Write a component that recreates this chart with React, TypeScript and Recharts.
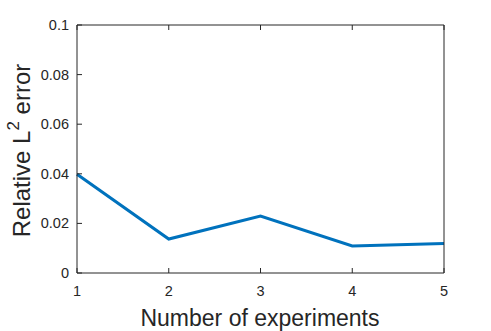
import React from 'react';
import { LineChart, Line, XAxis, YAxis } from 'recharts';

const experiments = [1, 2, 3, 4, 5];
const relErrors = [0.0398, 0.0137, 0.0230, 0.0109, 0.0119];
const xTicks = [1, 2, 3, 4, 5];
const yTicks = [0, 0.02, 0.04, 0.06, 0.08, 0.1];
const yTickLabels = ['0', '0.02', '0.04', '0.06', '0.08', '0.1'];

const data = experiments.map((x, i) => ({ x, err: relErrors[i] }));

const TXT = '#262626';
const FONT = '"Liberation Sans", Arial, Helvetica, sans-serif';
const TICK_LEN = 5;
const X_MARGIN = 12;
const Y_MARGIN = 8;

const yLabelFor = (v: number) =>
  yTickLabels[yTicks.findIndex((t) => Math.abs(t - v) < 1e-9)] ?? String(v);

const renderBottomTick = (props: any) => {
  const { x, y, payload } = props;
  const axisY = y - X_MARGIN;
  return (
    <g key={`b-${payload.value}`}>
      <line x1={x} x2={x} y1={axisY} y2={axisY - TICK_LEN} stroke={TXT} strokeWidth={1} />
      <text x={x} y={axisY + 23} textAnchor="middle" style={{ fontSize: 14.5, fontFamily: FONT }} fill={TXT}>
        {String(payload.value)}
      </text>
    </g>
  );
};

const renderLeftTick = (props: any) => {
  const { x, y, payload } = props;
  const axisX = x + Y_MARGIN;
  return (
    <g key={`l-${payload.value}`}>
      <line x1={axisX} x2={axisX + TICK_LEN} y1={y} y2={y} stroke={TXT} strokeWidth={1} />
      <text x={axisX - 8} y={y + 5} textAnchor="end" style={{ fontSize: 14.5, fontFamily: FONT }} fill={TXT}>
        {yLabelFor(payload.value)}
      </text>
    </g>
  );
};

const renderTopTick = (props: any) => {
  const { x, y, payload } = props;
  const axisY = y + X_MARGIN;
  return <line key={`t-${payload.value}`} x1={x} x2={x} y1={axisY} y2={axisY + TICK_LEN} stroke={TXT} strokeWidth={1} />;
};

const renderRightTick = (props: any) => {
  const { x, y, payload } = props;
  const axisX = x - Y_MARGIN;
  return <line key={`r-${payload.value}`} x1={axisX} x2={axisX - TICK_LEN} y1={y} y2={y} stroke={TXT} strokeWidth={1} />;
};

const YLabel = () => (
  <text
    x={30}
    y={150.5}
    transform="rotate(-90, 30, 150.5)"
    textAnchor="middle"
    style={{ fontSize: 24, fontFamily: FONT }}
    fill={TXT}
  >
    <tspan>Relative L</tspan>
    <tspan style={{ fontSize: 17 }} dy={-11}>2</tspan>
    <tspan dy={11}> error</tspan>
  </text>
);

const XLabel = () => (
  <text x={260} y={326} textAnchor="middle" style={{ fontSize: 23, fontFamily: FONT }} fill={TXT}>
    Number of experiments
  </text>
);

export default function App() {
  return (
    <div style={{ position: 'absolute', left: 0, top: 0, width: 491, height: 331, background: '#fff' }}>
      <LineChart
        width={491}
        height={331}
        data={data}
        margin={{ top: 15, right: 37, bottom: 28, left: 17 }}
      >
        <XAxis
          dataKey="x"
          type="number"
          domain={[1, 5]}
          ticks={xTicks}
          height={30}
          tickSize={0}
          tickMargin={X_MARGIN}
          axisLine={{ stroke: TXT, strokeWidth: 1 }}
          tickLine={false}
          tick={renderBottomTick}
          label={<XLabel />}
        />
        <XAxis
          xAxisId="top"
          orientation="top"
          dataKey="x"
          type="number"
          domain={[1, 5]}
          ticks={xTicks}
          height={10}
          tickSize={0}
          tickMargin={X_MARGIN}
          axisLine={{ stroke: TXT, strokeWidth: 1 }}
          tickLine={false}
          tick={renderTopTick}
        />
        <YAxis
          type="number"
          domain={[0, 0.1]}
          ticks={yTicks}
          width={60}
          tickSize={0}
          tickMargin={Y_MARGIN}
          axisLine={{ stroke: TXT, strokeWidth: 1 }}
          tickLine={false}
          tick={renderLeftTick}
          label={<YLabel />}
        />
        <YAxis
          yAxisId="right"
          orientation="right"
          type="number"
          domain={[0, 0.1]}
          ticks={yTicks}
          width={10}
          tickSize={0}
          tickMargin={Y_MARGIN}
          axisLine={{ stroke: TXT, strokeWidth: 1 }}
          tickLine={false}
          tick={renderRightTick}
        />
        <Line
          dataKey="err"
          stroke="#0072BD"
          strokeWidth={3}
          dot={false}
          isAnimationActive={false}
        />
      </LineChart>
    </div>
  );
}
